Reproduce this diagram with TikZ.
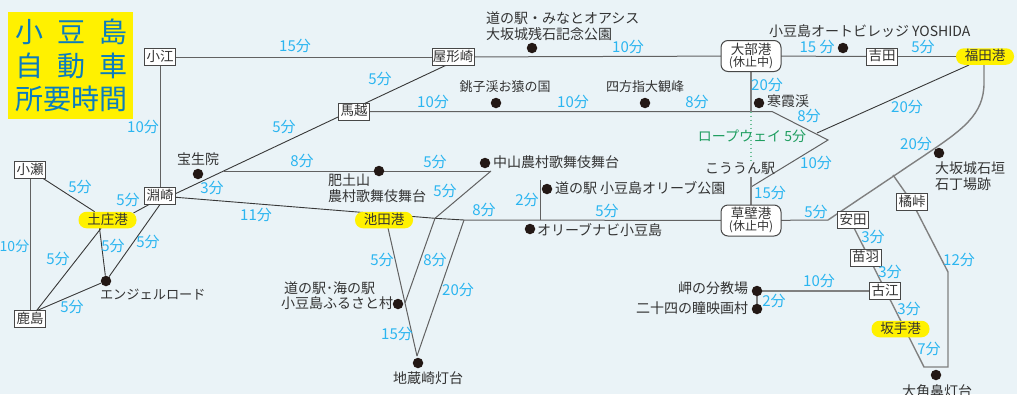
\documentclass[tikz,border=0pt]{standalone}
\usepackage{fontspec}
\setmainfont{Noto Sans CJK JP}
\usetikzlibrary{backgrounds}
\definecolor{bgc}{HTML}{EAF3F7}
\definecolor{yel}{HTML}{FFF100}
\definecolor{titlec}{HTML}{0A7CBE}
\definecolor{tmc}{HTML}{2BB5F0}
\definecolor{txt}{HTML}{333333}
\definecolor{grn}{HTML}{1F9E60}
\definecolor{dotc}{HTML}{231815}
\tikzset{
  base/.style={inner sep=0pt,outer sep=0pt,text=txt},
  lab/.style={base,font=\fontsize{14}{16}\selectfont,text height=11.5pt,text depth=2.5pt},
  labl/.style={lab,anchor=west},
  labr/.style={lab,anchor=east},
  multi/.style={base,font=\fontsize{14}{16}\selectfont,align=left,anchor=west},
  tm/.style={inner sep=0pt,text=tmc,font=\fontsize{15}{16}\selectfont,text height=11.5pt,text depth=2.5pt},
  stn/.style={base,draw=txt!90,line width=1pt,fill=white,minimum width=31pt,minimum height=17pt,font=\fontsize{13.5}{15}\selectfont,text height=11pt,text depth=2.5pt},
  port/.style={base,draw=txt!90,line width=1pt,fill=white,rounded corners=7pt,minimum width=60pt,minimum height=31pt,align=center},
  pill/.style={base,fill=yel,rounded corners=8pt,minimum width=58pt,minimum height=16.5pt,font=\fontsize{13.5}{15}\selectfont,text height=11pt,text depth=2.5pt},
  spot/.style={circle,fill=dotc,inner sep=0pt,minimum size=10.5pt},
  ln/.style={draw=black!62,line width=1pt},
  dk/.style={draw=black!78,line width=0.9pt},
  gr/.style={draw=black!50,line width=1.4pt},
  title/.style={inner sep=0pt,text=titlec,font=\fontsize{28}{30}\selectfont,text height=24pt,text depth=3pt},
}
\newcommand{\portlab}[1]{{\fontsize{13.5}{15}\selectfont #1}\\{\fontsize{12}{15}\selectfont (休止中)}}
\begin{document}
\begin{tikzpicture}[x=1pt,y=-1pt]
\useasboundingbox (0,0) rectangle (1017,394);
\clip (0,0) rectangle (1017,394);
% title
\node[fill=yel,minimum width=125pt,minimum height=107pt,inner sep=0pt,anchor=north west] (ttl) at (8,12) {};
\node[title] (t1) at (72,32) {\makebox[112pt][s]{小\hfil 豆\hfil 島}};
\node[title] (t2) at (72,66) {\makebox[112pt][s]{自\hfil 動\hfil 車}};
\node[title] (t3) at (72,99) {\makebox[112pt][s]{所\hfil 要\hfil 時\hfil 間}};
% stops
\node[stn] (oe) at (160,57) {小江};
\node[stn] (fuchi) at (160,196) {淵崎};
\node[stn] (ose) at (30,170) {小瀬};
\node[stn] (kashima) at (30,319) {鹿島};
\node[stn,minimum width=42pt] (yaga) at (453,57) {屋形崎};
\node[stn] (uma) at (354,111.5) {馬越};
\node[stn] (yoshida) at (882,56.5) {吉田};
\node[stn] (tachi) at (912,202) {橘峠};
\node[stn] (yasuda) at (853,220) {安田};
\node[stn] (noh) at (865.5,257.5) {苗羽};
\node[stn] (furue) at (885,291) {古江};
\node[port] (obe) at (751,56) {\portlab{大部港}};
\node[port] (kusa) at (751,220.5) {\portlab{草壁港}};
\node[pill] (tono) at (107.5,220) {土庄港};
\node[pill] (ike) at (384,220) {池田港};
\node[pill] (fuku) at (985,56.5) {福田港};
\node[pill] (saka) at (900.5,329) {坂手港};
% spots
\node[spot] (dangel) at (106,281) {};
\node[spot] (dhosho) at (198,174) {};
\node[spot] (dhito) at (379,171) {};
\node[spot] (dnaka) at (485,163) {};
\node[spot] (dmichi) at (547,189) {};
\node[spot] (dolive) at (530,229) {};
\node[spot] (dumi) at (398,304) {};
\node[spot] (djizo) at (418,363) {};
\node[spot] (dminato) at (532,48) {};
\node[spot] (dchoshi) at (496,103) {};
\node[spot] (dshiho) at (645,103) {};
\node[spot] (dkanka) at (759,103) {};
\node[spot] (dauto) at (843,48) {};
\node[spot] (dosaka) at (939,153) {};
\node[spot] (dmisaki) at (757,291) {};
\node[spot] (dnijushi) at (757,309) {};
\node[spot] (dokaku) at (936,375) {};
% junctions
\coordinate (j1) at (224,171);
\coordinate (j2) at (464,220);
\coordinate (j3) at (435,218.3);
\coordinate (j4) at (491,171);
\coordinate (j5) at (405,303);
\coordinate (j6) at (417,356);
\coordinate (j7) at (751,111.5);
\coordinate (j8) at (772,111.5);
\coordinate (j9) at (828,140);
\coordinate (j10) at (751,187);
\coordinate (j11) at (751,177);
\coordinate (j12) at (751,162);
\coordinate (j13) at (817,133);
\coordinate (j14) at (828,220);
\coordinate (j15) at (893,175);
\coordinate (j16) at (948,272);
\coordinate (j17) at (948,367);
\coordinate (j18) at (924,367);
\coordinate (j19) at (540,180);
\coordinate (j20) at (540,220);
% connectors
\begin{pgfonlayer}{background}
\fill[bgc] (0,0) rectangle (1017,394);
\draw[ln] (oe) -- (yaga);
\draw[ln] (yaga) -- (obe);
\draw[ln] (obe) -- (yoshida);
\draw[ln] (yoshida) -- (fuku);
\draw[ln] (oe) -- (fuchi);
\draw[ln] (ose) -- (kashima);
\draw[dk] (ose) -- (tono);
\draw[dk] ([shift={(26,-7)}]tono.center) -- ([shift={(-10,8)}]fuchi.center);
\draw[dk] (tono) -- (kashima);
\draw[dk] ([shift={(-9,0)}]tono.center) -- (dangel);
\draw[dk] ([shift={(6,0)}]fuchi.center) -- (dangel);
\draw[dk] ([shift={(6,-8)}]kashima.center) -- (dangel);
\draw[dk] ([shift={(0,5)}]fuchi.center) -- ([shift={(0,-2)}]uma.center);
\draw[dk] ([shift={(0,-3)}]uma.center) -- ([shift={(0,5)}]yaga.center);
\draw[ln] (j1) -- (j4);
\draw[dk] (fuchi) -- (j3);
\draw[dk] (j3) -- (j2);
\draw[ln] (j2) -- (kusa);
\draw[ln] (j4) -- (j3);
\draw[ln] (j3) -- (j5);
\draw[ln] ([shift={(4,8)}]ike.center) -- (j6);
\draw[ln] (j2) -- (j6);
\draw[ln] (j19) -- (j20);
\draw[ln] (uma) -- (j8) -- (j9) -- (j10);
\draw[gr] (obe) -- (j7);
\draw[grn!65,line width=1.5pt,dash pattern=on 1.5pt off 2.5pt] (j7) -- (j12);
\draw[gr] (j11) -- (kusa);
\draw[dk] ([shift={(-16,8.5)}]fuku.center) -- (j13);
\draw[ln] (kusa) -- (j14);
\draw[gr] (j14) -- (925,155) .. controls (962,130) and (984,115) .. (984,83) -- ([shift={(-1,0)}]fuku.center);
\draw[gr] (j15) -- (tachi);
\draw[gr] (tachi) -- (j16) -- (j17) -- (j18) -- ([shift={(-3,0)}]yasuda.center);
\draw[gr] (dmisaki) -- (furue);
\draw[gr] (dmisaki) -- (dnijushi);
\end{pgfonlayer}
% times
\node[tm] (m01) at (295,47) {15分};
\node[tm] (m02) at (143,128) {10分};
\node[tm] (m03) at (284,128) {5分};
\node[tm] (m04) at (302,162) {8分};
\node[tm] (m05) at (212,189) {3分};
\node[tm] (m06) at (80,188) {5分};
\node[tm] (m07) at (128,201) {5分};
\node[tm] (m08) at (256,216) {11分};
\node[tm] (m09) at (113,247) {5分};
\node[tm] (m10) at (148,243) {5分};
\node[tm] (m11) at (58,260) {5分};
\node[tm,font=\fontsize{14}{16}\selectfont] (m12) at (14.5,247) {10分};
\node[tm] (m13) at (72,308) {5分};
\node[tm] (m14) at (380,80) {5分};
\node[tm] (m15) at (433,103) {10分};
\node[tm] (m16) at (573,103) {10分};
\node[tm] (m17) at (628,48) {10分};
\node[tm] (m18) at (697,103) {8分};
\node[tm] (m19) at (435,163) {5分};
\node[tm] (m20) at (445,192) {5分};
\node[tm] (m21) at (484,211) {8分};
\node[tm] (m22) at (527,201) {2分};
\node[tm] (m23) at (607,212) {5分};
\node[tm] (m24) at (382,261) {5分};
\node[tm] (m25) at (435,261) {8分};
\node[tm] (m26) at (458,291) {20分};
\node[tm] (m27) at (397,335) {15分};
\node[tm] (m28) at (767,86) {20分};
\node[tm] (m29) at (817,48) {15 分};
\node[tm] (m30) at (923,48) {5分};
\node[tm] (m31) at (809,117) {8分};
\node[tm] (m32) at (907,108) {20分};
\node[tm] (m33) at (916,145) {20分};
\node[tm] (m34) at (816,164) {10分};
\node[tm] (m35) at (770,194) {15分};
\node[tm] (m36) at (816,213) {5分};
\node[tm] (m37) at (873,238) {3分};
\node[tm] (m38) at (890,273) {3分};
\node[tm] (m39) at (909,310) {3分};
\node[tm] (m40) at (929,350) {7分};
\node[tm] (m41) at (959,261) {12分};
\node[tm] (m42) at (819,282) {10分};
\node[tm] (m43) at (774,302) {2分};
\node[tm,text=grn,font=\fontsize{14}{16}\selectfont] (rope) at (752,137) {ロープウェイ 5分};
% labels
\node[multi] (l1) at (486,26) {道の駅・みなとオアシス\\大坂城残石記念公園};
\node[lab,font=\fontsize{13}{16}\selectfont] (l2) at (505,87) {銚子渓お猿の国};
\node[lab,font=\fontsize{13}{16}\selectfont] (l3) at (645,87) {四方指大観峰};
\node[labl] (l4) at (769,32) {小豆島オートビレッジ YOSHIDA};
\node[labl] (l5) at (767,102) {寒霞渓};
\node[lab] (l6) at (740,169) {こううん駅};
\node[multi] (l7) at (935,176) {大坂城石垣\\石丁場跡};
\node[lab] (l8) at (198,160) {宝生院};
\node[multi] (l9) at (328,188) {肥土山\\農村歌舞伎舞台};
\node[labl] (l10) at (493,163) {中山農村歌舞伎舞台};
\node[labl] (l11) at (555,189) {道の駅 小豆島オリーブ公園};
\node[labl] (l12) at (537,231) {オリーブナビ小豆島};
\node[labl,font=\fontsize{13.2}{16}\selectfont] (l13) at (100,295) {エンジェルロード};
\node[base,font=\fontsize{14}{15}\selectfont,align=left] (l14) at (337,296) {\hspace*{3pt}道の駅･海の駅\\小豆島ふるさと村};
\node[lab] (l15) at (428,379) {地蔵崎灯台};
\node[labr] (l16) at (748,289) {岬の分教場};
\node[labr] (l17) at (748,309) {二十四の瞳映画村};
\node[lab] (l18) at (937,392) {大角鼻灯台};
\end{tikzpicture}
\end{document}
